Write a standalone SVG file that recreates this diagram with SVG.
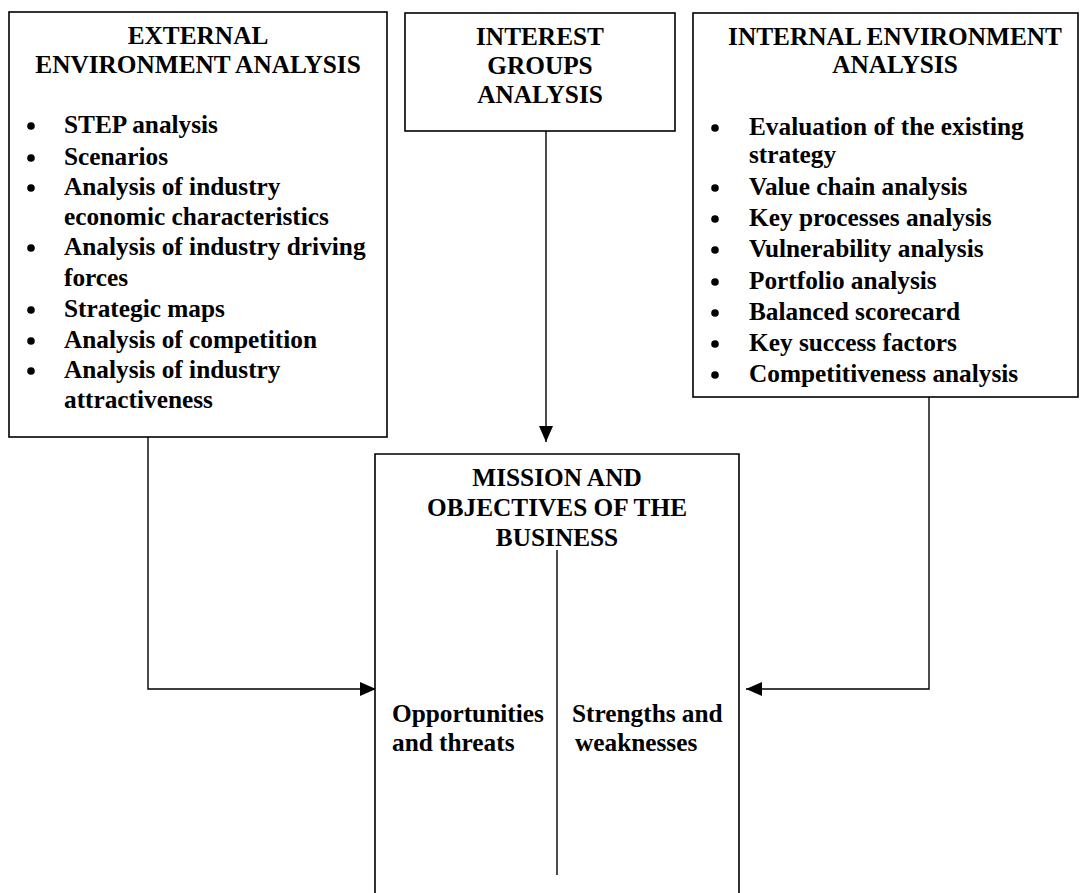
<svg xmlns="http://www.w3.org/2000/svg" width="1085" height="893" viewBox="0 0 1085 893">
<style>
.box{fill:#fff;stroke:#000;stroke-width:1.6}
.ln{fill:none;stroke:#000;stroke-width:1.4}
text{font-family:"Liberation Serif","Times New Roman",serif;font-weight:bold;font-size:25.3px;fill:#000}
.c{text-anchor:middle}
.b{fill:#000}
</style>
<defs>
<marker id="ah" viewBox="0 0 16 14" refX="16" refY="7" markerWidth="16" markerHeight="14" markerUnits="userSpaceOnUse" orient="auto">
<path d="M0,0 L16,7 L0,14 z" fill="#000"/>
</marker>
</defs>
<rect width="1085" height="893" fill="#fff"/>
<g id="connectors">
<path class="ln" d="M148,437 V689 H376" marker-end="url(#ah)"/>
<path class="ln" d="M546,131 V442" marker-end="url(#ah)"/>
<path class="ln" d="M929,397 V689 H746" marker-end="url(#ah)"/>
</g>
<g id="external">
<rect class="box" x="9" y="12" width="378" height="425"/>
<text class="c" x="198" y="44">EXTERNAL</text>
<text class="c" x="198" y="73">ENVIRONMENT ANALYSIS</text>
<g class="b">
<circle cx="31" cy="126" r="3.8"/>
<circle cx="31" cy="158" r="3.8"/>
<circle cx="31" cy="188" r="3.8"/>
<circle cx="31" cy="248" r="3.8"/>
<circle cx="31" cy="310" r="3.8"/>
<circle cx="31" cy="341" r="3.8"/>
<circle cx="31" cy="371" r="3.8"/>
</g>
<text x="64" y="133">STEP analysis</text>
<text x="64" y="165">Scenarios</text>
<text x="64" y="195">Analysis of industry</text>
<text x="64" y="225">economic characteristics</text>
<text x="64" y="255">Analysis of industry driving</text>
<text x="64" y="286">forces</text>
<text x="64" y="317">Strategic maps</text>
<text x="64" y="348">Analysis of competition</text>
<text x="64" y="378">Analysis of industry</text>
<text x="64" y="408">attractiveness</text>
</g>
<g id="interest">
<rect class="box" x="405" y="13" width="270" height="118"/>
<text class="c" x="540" y="45">INTEREST</text>
<text class="c" x="540" y="74">GROUPS</text>
<text class="c" x="540" y="103">ANALYSIS</text>
</g>
<g id="internal">
<rect class="box" x="693" y="13" width="385" height="384"/>
<text class="c" x="895" y="45">INTERNAL ENVIRONMENT</text>
<text class="c" x="895" y="73">ANALYSIS</text>
<g class="b">
<circle cx="715" cy="128" r="3.8"/>
<circle cx="715" cy="188" r="3.8"/>
<circle cx="715" cy="219" r="3.8"/>
<circle cx="715" cy="250" r="3.8"/>
<circle cx="715" cy="282" r="3.8"/>
<circle cx="715" cy="313" r="3.8"/>
<circle cx="715" cy="344" r="3.8"/>
<circle cx="715" cy="375" r="3.8"/>
</g>
<text x="749" y="135">Evaluation of the existing</text>
<text x="749" y="163">strategy</text>
<text x="749" y="195">Value chain analysis</text>
<text x="749" y="226">Key processes analysis</text>
<text x="749" y="257">Vulnerability analysis</text>
<text x="749" y="289">Portfolio analysis</text>
<text x="749" y="320">Balanced scorecard</text>
<text x="749" y="351">Key success factors</text>
<text x="749" y="382">Competitiveness analysis</text>
</g>
<g id="mission">
<path class="box" d="M375,893 V454 H739 V893"/>
<text class="c" x="557" y="486">MISSION AND</text>
<text class="c" x="557" y="516">OBJECTIVES OF THE</text>
<text class="c" x="557" y="546">BUSINESS</text>
<line class="ln" x1="557" y1="550" x2="557" y2="875"/>
<text x="392" y="722">Opportunities</text>
<text x="392" y="751">and threats</text>
<text x="572" y="722">Strengths and</text>
<text x="575" y="751">weaknesses</text>
</g>
</svg>
